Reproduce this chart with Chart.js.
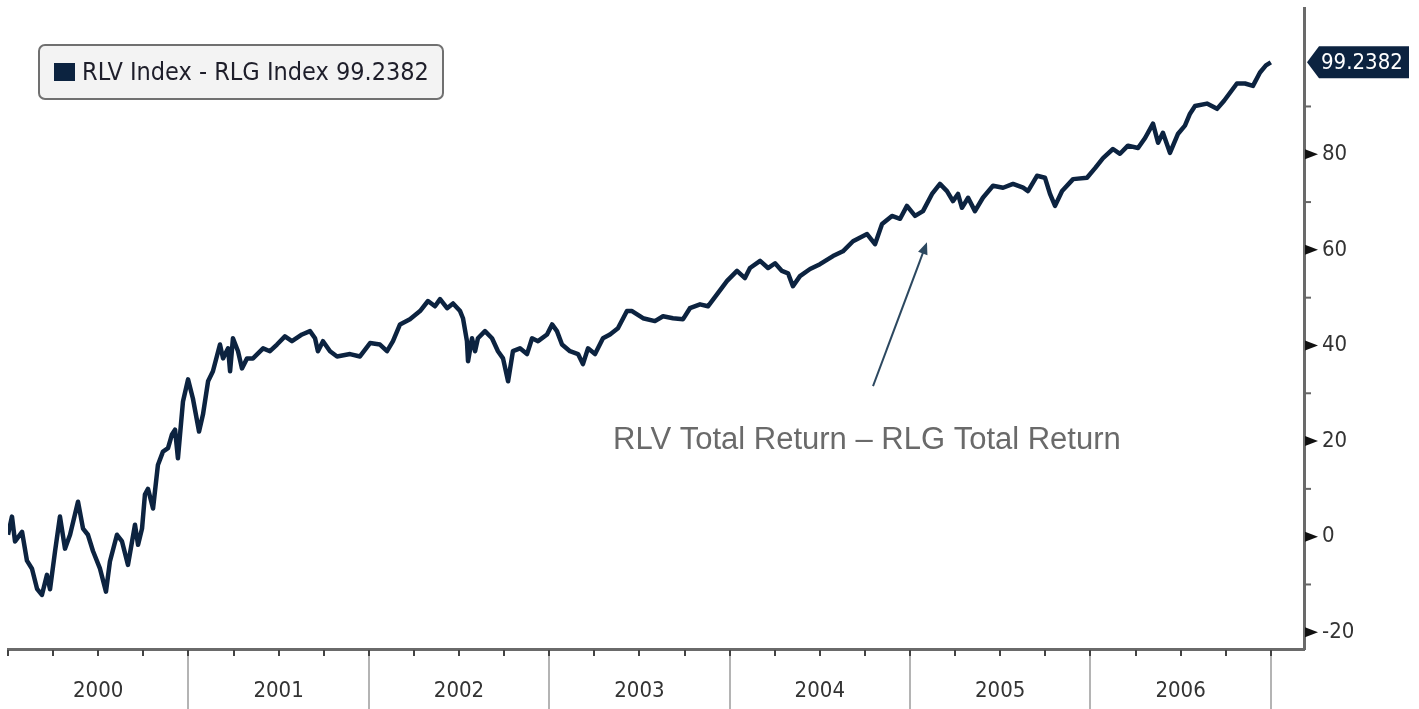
<!DOCTYPE html>
<html>
<head>
<meta charset="utf-8">
<script src="https://cdn.jsdelivr.net/npm/chart.js@4.4.1/dist/chart.umd.min.js"></script>
<style>
    html, body { margin: 0; padding: 0; background: #fff; }
    #wrap { width: 1419px; height: 709px; }
</style>
</head>
<body>
<div id="wrap"><canvas id="chart" width="1419" height="709"></canvas></div>
<script>
const seriesName = 'RLV Index - RLG Index';
const lastValue = 99.2382;
const noteText = 'RLV Total Return \u2013 RLG Total Return';

const years = [2000, 2001, 2002, 2003, 2004, 2005, 2006];
const yearLabels = ['2000', '2001', '2002', '2003', '2004', '2005', '2006'];
const yTickValues = [-20, -10, 0, 10, 20, 30, 40, 50, 60, 70, 80, 90];

// decimal years, one line per calendar year
const dates = [
    2000.000, 2000.022, 2000.039, 2000.078, 2000.105, 2000.133, 2000.161, 2000.188, 2000.216, 2000.233, 2000.261, 2000.288, 2000.316, 2000.344, 2000.388, 2000.416, 2000.443, 2000.471, 2000.510, 2000.543, 2000.565, 2000.604, 2000.632, 2000.665, 2000.704, 2000.721, 2000.743, 2000.759, 2000.776, 2000.804, 2000.831, 2000.859, 2000.887, 2000.909, 2000.926, 2000.942, 2000.970, 2000.998,
    2001.025, 2001.059, 2001.081, 2001.109, 2001.136, 2001.175, 2001.192, 2001.220, 2001.231, 2001.247, 2001.275, 2001.297, 2001.325, 2001.358, 2001.414, 2001.452, 2001.491, 2001.535, 2001.574, 2001.630, 2001.674, 2001.702, 2001.718, 2001.746, 2001.785, 2001.824, 2001.896, 2001.951,
    2002.007, 2002.062, 2002.101, 2002.134, 2002.173, 2002.228, 2002.284, 2002.328, 2002.367, 2002.395, 2002.434, 2002.467, 2002.506, 2002.522, 2002.544, 2002.550, 2002.572, 2002.589, 2002.605, 2002.644, 2002.683, 2002.716, 2002.744, 2002.772, 2002.799, 2002.838, 2002.877, 2002.905, 2002.938, 2002.988,
    2003.016, 2003.043, 2003.071, 2003.115, 2003.160, 2003.187, 2003.215, 2003.254, 2003.298, 2003.337, 2003.381, 2003.431, 2003.459, 2003.520, 2003.586, 2003.631, 2003.686, 2003.742, 2003.780, 2003.836, 2003.880, 2003.930, 2003.986,
    2004.041, 2004.085, 2004.113, 2004.169, 2004.213, 2004.252, 2004.290, 2004.324, 2004.351, 2004.390, 2004.446, 2004.501, 2004.573, 2004.628, 2004.684, 2004.762, 2004.806, 2004.845, 2004.900, 2004.945, 2004.983,
    2005.028, 2005.072, 2005.122, 2005.166, 2005.205, 2005.238, 2005.266, 2005.288, 2005.322, 2005.360, 2005.404, 2005.460, 2005.516, 2005.571, 2005.627, 2005.654, 2005.704, 2005.748, 2005.776, 2005.804, 2005.843, 2005.904, 2005.981,
    2006.026, 2006.070, 2006.125, 2006.164, 2006.208, 2006.264, 2006.303, 2006.347, 2006.375, 2006.402, 2006.441, 2006.486, 2006.524, 2006.552, 2006.580, 2006.646, 2006.702, 2006.741, 2006.812, 2006.857, 2006.901, 2006.940, 2006.973,
    2007.000
];

const values = [
    0.4, 4.2, -1, 1, -5, -6.7, -10.9, -12.2, -8, -11, -3, 4.2, -2.5, 0.4, 7.3, 1.7, 0.4, -3, -6.7, -11.5, -5.2, 0.4, -1, -5.9, 2.5, -1.7, 1.7, 8.8, 10, 5.9, 15, 17.8, 18.5, 21.4, 22.4, 16.4, 28.3, 32.9,
    28.9, 22, 25.6, 32.5, 34.6, 40.2, 37.3, 39.4, 34.6, 41.5, 38.8, 35.2, 37.3, 37.3, 39.4, 38.8, 40.2, 41.9, 40.9, 42.3, 43, 41.5, 38.8, 40.9, 38.8, 37.7, 38.2, 37.7,
    40.5, 40.2, 38.8, 40.9, 44.4, 45.5, 47.2, 49.3, 48.2, 49.7, 47.8, 48.8, 47.2, 45.7, 40.9, 36.7, 41.5, 38.8, 41.5, 43, 41.5, 38.8, 37.3, 32.5, 38.8, 39.4, 38.2, 41.5, 40.9, 42.3,
    44.4, 43, 40.2, 38.8, 38.2, 36.1, 39.4, 38.2, 41.5, 42.3, 43.6, 47.2, 47.2, 45.7, 45.1, 46.1, 45.7, 45.5, 47.8, 48.6, 48.2, 50.7, 53.5,
    55.6, 54.1, 56.2, 57.7, 56.2, 57.2, 55.6, 55.1, 52.4, 54.5, 56, 57, 58.7, 59.7, 61.8, 63.3, 61.2, 65.4, 67.1, 66.5, 69.2,
    67.1, 68.1, 71.7, 73.8, 72.3, 70.2, 71.7, 68.8, 70.9, 68.1, 70.9, 73.4, 73, 73.8, 73, 72.3, 75.5, 75.1, 71.7, 69.2, 72.3, 74.8, 75.1,
    77.1, 79.2, 81.1, 80.1, 81.8, 81.3, 83.4, 86.4, 82.4, 84.5, 80.3, 84.3, 86, 88.5, 90.1, 90.6, 89.5, 91.2, 94.8, 94.8, 94.3, 97.1, 98.6,
    lastValue
];

// arrow tail, arrow tip, text anchor (decimal year, value)
const arrowFrom = [2004.795, 31.5];
const arrowTo = [2005.094, 61.6];
const noteAt = [2003.354, 18.3];

const navy = '#0c2340';
const fontFamily = "'DejaVu Sans Condensed', 'DejaVu Sans', sans-serif";
const tickFont = { family: fontFamily, size: 22 };

const quarterTicks = [];
years.forEach(y => [0, 0.25, 0.5, 0.75].forEach(q => quarterTicks.push(y + q)));
quarterTicks.push(years[years.length - 1] + 1);

function zeroPadding(scale) {
    scale.paddingTop = 0;
    scale.paddingBottom = 0;
    scale.paddingLeft = 0;
    scale.paddingRight = 0;
}

const decorPlugin = {
    id: 'decor',
    afterDraw(chart) {
        const ctx = chart.ctx;
        const { chartArea } = chart;
        const xs = chart.scales.x;
        const ys = chart.scales.y;
        ctx.save();

        // year boundaries and quarter ticks under the axis
        quarterTicks.forEach(v => {
            const px = Math.round(xs.getPixelForValue(v));
            if (v % 1 === 0 && v !== years[0]) {
                ctx.strokeStyle = '#b4b4b4';
                ctx.lineWidth = 2;
                ctx.beginPath();
                ctx.moveTo(px, chartArea.bottom + 2);
                ctx.lineTo(px, chart.height);
                ctx.stroke();
            }
            ctx.strokeStyle = '#444';
            ctx.lineWidth = 2;
            ctx.beginPath();
            ctx.moveTo(px, chartArea.bottom + 1);
            ctx.lineTo(px, chartArea.bottom + 7);
            ctx.stroke();
        });

        // right axis ticks: wedges on labelled values, dashes between
        yTickValues.forEach(v => {
            const py = ys.getPixelForValue(v);
            const ax = chartArea.right + 1;
            if (v % 20 === 0) {
                ctx.fillStyle = '#111';
                ctx.beginPath();
                ctx.moveTo(ax, py - 5);
                ctx.lineTo(ax + 13, py);
                ctx.lineTo(ax, py + 5);
                ctx.closePath();
                ctx.fill();
            } else {
                ctx.strokeStyle = '#666';
                ctx.lineWidth = 2;
                ctx.beginPath();
                ctx.moveTo(ax, py);
                ctx.lineTo(ax + 6, py);
                ctx.stroke();
            }
        });

        // last value tag
        const ty = ys.getPixelForValue(lastValue);
        const tx = chartArea.right + 3;
        ctx.fillStyle = navy;
        ctx.beginPath();
        ctx.moveTo(tx, ty);
        ctx.lineTo(tx + 12, ty - 16);
        ctx.lineTo(tx + 102, ty - 16);
        ctx.lineTo(tx + 102, ty + 16);
        ctx.lineTo(tx + 12, ty + 16);
        ctx.closePath();
        ctx.fill();
        ctx.fillStyle = '#fff';
        ctx.font = `22px ${fontFamily}`;
        ctx.textAlign = 'left';
        ctx.textBaseline = 'middle';
        ctx.fillText(lastValue.toFixed(4), tx + 14, ty + 1);

        // legend box
        const lx = chartArea.left + 31;
        const ly = chartArea.top + 37;
        ctx.beginPath();
        ctx.roundRect(lx, ly, 404, 54, 6);
        ctx.fillStyle = '#f3f3f3';
        ctx.fill();
        ctx.strokeStyle = '#707070';
        ctx.lineWidth = 2;
        ctx.stroke();
        ctx.fillStyle = navy;
        ctx.fillRect(lx + 15, ly + 18, 21, 18);
        ctx.fillStyle = '#1e1e2a';
        ctx.font = `25px ${fontFamily}`;
        ctx.fillText(`${seriesName} ${lastValue.toFixed(4)}`, lx + 43, ly + 28);

        // annotation arrow
        const x0 = xs.getPixelForValue(arrowFrom[0]);
        const y0 = ys.getPixelForValue(arrowFrom[1]);
        const x1 = xs.getPixelForValue(arrowTo[0]);
        const y1 = ys.getPixelForValue(arrowTo[1]);
        const ang = Math.atan2(y1 - y0, x1 - x0);
        ctx.strokeStyle = '#2c4860';
        ctx.fillStyle = '#2c4860';
        ctx.lineWidth = 2;
        ctx.beginPath();
        ctx.moveTo(x0, y0);
        ctx.lineTo(x1 - 8 * Math.cos(ang), y1 - 8 * Math.sin(ang));
        ctx.stroke();
        ctx.beginPath();
        ctx.moveTo(x1, y1);
        ctx.lineTo(x1 - 12 * Math.cos(ang) + 5 * Math.sin(ang), y1 - 12 * Math.sin(ang) - 5 * Math.cos(ang));
        ctx.lineTo(x1 - 12 * Math.cos(ang) - 5 * Math.sin(ang), y1 - 12 * Math.sin(ang) + 5 * Math.cos(ang));
        ctx.closePath();
        ctx.fill();

        ctx.fillStyle = '#6a6a6a';
        ctx.font = "31px 'Liberation Sans', Arial, sans-serif";
        ctx.textBaseline = 'alphabetic';
        ctx.fillText(noteText, xs.getPixelForValue(noteAt[0]), ys.getPixelForValue(noteAt[1]));

        ctx.restore();
    }
};

new Chart(document.getElementById('chart'), {
    type: 'line',
    data: {
        datasets: [{
            label: seriesName,
            data: dates.map((d, i) => ({ x: d, y: values[i] })),
            borderColor: navy,
            borderWidth: 4.5,
            borderJoinStyle: 'round',
            pointRadius: 0,
            tension: 0,
            fill: false
        }]
    },
    options: {
        responsive: false,
        devicePixelRatio: 1,
        animation: false,
        layout: { padding: { left: 8, top: 8, right: 0, bottom: 0 } },
        plugins: {
            legend: { display: false },
            tooltip: { enabled: false }
        },
        scales: {
            x: {
                type: 'linear',
                min: 2000,
                max: 2007.184,
                afterBuildTicks: scale => { scale.ticks = quarterTicks.map(v => ({ value: v })); },
                afterFit: scale => { scale.height = 60; zeroPadding(scale); },
                ticks: {
                    autoSkip: false,
                    maxRotation: 0,
                    padding: 29,
                    color: '#333',
                    font: tickFont,
                    callback: v => {
                        const i = years.indexOf(v - 0.5);
                        return i >= 0 ? yearLabels[i] : '';
                    }
                },
                grid: { drawOnChartArea: false, drawTicks: false },
                border: { display: true, color: '#6a6a6a', width: 3 }
            },
            y: {
                position: 'right',
                min: -23.5,
                max: 110.6,
                afterBuildTicks: scale => { scale.ticks = yTickValues.map(v => ({ value: v })); },
                afterFit: scale => { scale.width = 115; zeroPadding(scale); },
                ticks: {
                    padding: 18,
                    color: '#333',
                    font: tickFont,
                    callback: v => (v % 20 === 0 ? String(v) : '')
                },
                grid: { drawOnChartArea: false, drawTicks: false },
                border: { display: true, color: '#6a6a6a', width: 3 }
            }
        }
    },
    plugins: [decorPlugin]
});
</script>
</body>
</html>
